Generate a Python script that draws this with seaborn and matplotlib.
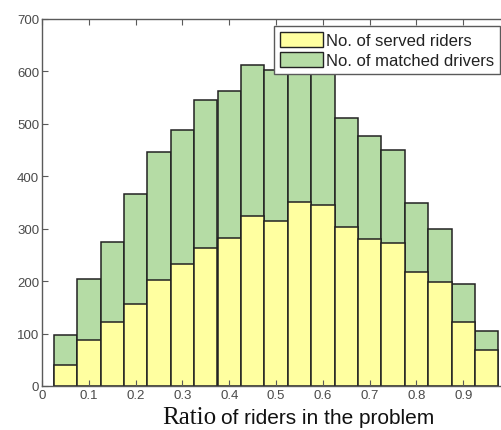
import numpy as np
import matplotlib
matplotlib.use("Agg")
import matplotlib.pyplot as plt
import seaborn as sns
from matplotlib.patches import Patch

# ---- data ----
ratio = [0.05, 0.10, 0.15, 0.20, 0.25, 0.30, 0.35, 0.40, 0.45, 0.50,
         0.55, 0.60, 0.65, 0.70, 0.75, 0.80, 0.85, 0.90, 0.95]
served_riders = [40, 87, 122, 157, 202, 233, 263, 282, 325, 314,
                 351, 345, 304, 280, 273, 218, 198, 123, 68]
matched_drivers = [97, 204, 275, 366, 446, 489, 546, 563, 612, 602,
                   640, 615, 512, 477, 450, 350, 299, 195, 104]
bin_edges = [0.025, 0.075, 0.125, 0.175, 0.225, 0.275, 0.325, 0.375, 0.425, 0.475,
             0.525, 0.575, 0.625, 0.675, 0.725, 0.775, 0.825, 0.875, 0.925, 0.975]
x_ticks = [0, 0.1, 0.2, 0.3, 0.4, 0.5, 0.6, 0.7, 0.8, 0.9]
x_tick_labels = ["0", "0.1", "0.2", "0.3", "0.4", "0.5", "0.6", "0.7", "0.8", "0.9"]
y_ticks = [0, 100, 200, 300, 400, 500, 600, 700]
legend_labels = ["No. of served riders", "No. of matched drivers"]

sns.set_style("white")
plt.rcParams['font.family'] = ['Liberation Sans', 'DejaVu Sans']

yellow = "#FFFFA0"
green = "#B5DCA5"
edge = "#222222"
axcol = "#5a5a5a"

W, H = 501, 431
fig = plt.figure(figsize=(W / 100, H / 100), dpi=100)
ax = fig.add_axes([42 / W, (H - 387) / H, 468 / W, 367 / H])

sns.histplot(x=ratio, weights=matched_drivers, bins=bin_edges, ax=ax,
             color=green, alpha=1, edgecolor=edge, linewidth=1.1, legend=False)
sns.histplot(x=ratio, weights=served_riders, bins=bin_edges, ax=ax,
             color=yellow, alpha=1, edgecolor=edge, linewidth=1.1, legend=False)

ax.set_xlim(0, 1)
ax.set_ylim(0, 700)
ax.set_xticks(x_ticks)
ax.set_xticklabels(x_tick_labels)
ax.set_yticks(y_ticks)
ax.set_xlabel("")
ax.set_ylabel("")

for s in ax.spines.values():
    s.set_color(axcol)
    s.set_linewidth(1.0)
ax.tick_params(direction="in", length=4, width=0.8, color=axcol,
               labelsize=9.5, labelcolor="#4a4a4a", pad=2,
               top=True, right=True, bottom=True, left=True)
ax.set_axisbelow(False)

handles = [Patch(facecolor=yellow, edgecolor=edge, linewidth=1.0),
           Patch(facecolor=green, edgecolor=edge, linewidth=1.0)]
leg = ax.legend(handles, legend_labels, loc="upper left",
                bbox_to_anchor=(274 / W, 1 - 27 / H), bbox_transform=fig.transFigure,
                borderaxespad=0, fontsize=12, handlelength=2.6, handleheight=1.05,
                handletextpad=0.15, labelspacing=0.2, borderpad=0.35,
                fancybox=False, framealpha=1, edgecolor=axcol)
leg.get_frame().set_linewidth(1.0)
for t in leg.get_texts():
    t.set_color("#222222")

fig.text(216 / W, 1 - 424 / H, "Ratio", family="Liberation Serif", fontsize=18,
         ha="right", va="baseline", color="#111111")
fig.text(221 / W, 1 - 424 / H, "of riders in the problem", fontsize=15,
         ha="left", va="baseline", color="#111111")

fig.savefig("out.png", dpi=100)
